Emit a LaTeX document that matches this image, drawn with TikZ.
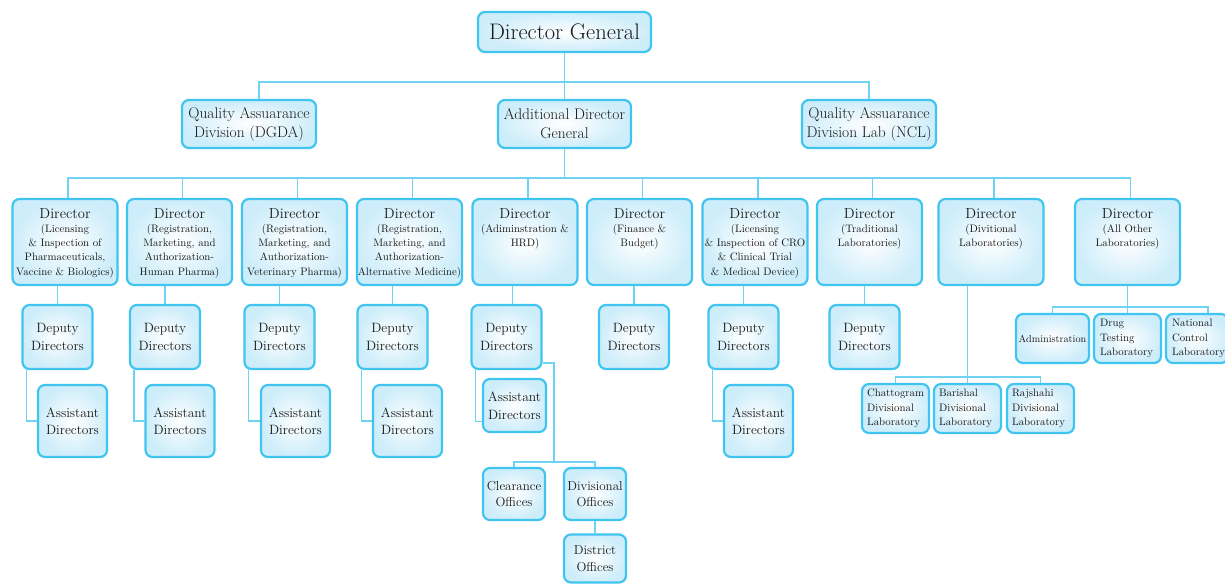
\documentclass[tikz,border=0pt]{standalone}
\usepackage{tikz}
\definecolor{edgecol}{RGB}{64,196,240}
\definecolor{linkcol}{RGB}{110,210,242}
\definecolor{tintcol}{RGB}{205,237,250}
\newcommand\dirlabel[1]{\parbox[c][86pt][t]{105pt}{\centering\rule{0pt}{19pt}\fontsize{14.5}{16}\selectfont Director\par\vspace{0.3pt}\fontsize{10.8}{14.2}\selectfont #1\par}}
\begin{document}
\begin{tikzpicture}[x=1pt,y=-1pt,
  orgbox/.style={draw=edgecol, line width=2.2pt, rounded corners=7pt,
    inner color=white, outer color=tintcol, inner sep=0pt, align=center, text=black!90},
  topbox/.style={orgbox, minimum width=173pt, minimum height=40pt, font=\fontsize{22.5}{26}\selectfont},
  secbox/.style={orgbox, minimum width=134pt, minimum height=48pt, font=\fontsize{15.5}{19}\selectfont},
  dirbox/.style={orgbox},
  depbox/.style={orgbox, minimum width=70pt, minimum height=64pt, font=\fontsize{13.5}{17.5}\selectfont},
  asbox/.style={orgbox, minimum width=69pt, minimum height=72pt, font=\fontsize{13.5}{17.5}\selectfont},
  offbox/.style={orgbox, minimum width=62pt, font=\fontsize{13}{16.5}\selectfont},
  labbox/.style={orgbox, minimum height=49pt, inner xsep=5pt, align=left, font=\fontsize{10.8}{14.5}\selectfont},
  link/.style={draw=linkcol, line width=1.3pt}]
\useasboundingbox (0,0) rectangle (1225,584);

% top levels
\node[topbox] (dg) at (564.5,32) {Director General};
\node[secbox] (qad) at (249,124) {Quality Assuarance\\Division (DGDA)};
\node[secbox, minimum width=133pt] (adg) at (564.5,124) {Additional Director\\General};
\node[secbox] (ncl) at (869,124) {Quality Assuarance\\Division Lab (NCL)};

% directors
\node[dirbox] (d1) at (65,242) {\dirlabel{(Licensing\\ \& Inspection of\\ Pharmaceuticals,\\ Vaccine \& Biologics)}};
\node[dirbox] (d2) at (179.5,242) {\dirlabel{(Registration,\\ Marketing, and\\ Authorization-\\ Human Pharma)}};
\node[dirbox] (d3) at (294.5,242) {\dirlabel{(Registration,\\ Marketing, and\\ Authorization-\\ Veterinary Pharma)}};
\node[dirbox] (d4) at (409.5,242) {\dirlabel{(Registration,\\ Marketing, and\\ Authorization-\\ Alternative Medicine)}};
\node[dirbox] (d5) at (525,242) {\dirlabel{(Adiminstration \&\\ HRD)}};
\node[dirbox] (d6) at (639.5,242) {\dirlabel{(Finance \&\\ Budget)}};
\node[dirbox] (d7) at (755,242) {\dirlabel{(Licensing\\ \& Inspection of CRO\\ \& Clinical Trial\\ \& Medical Device)}};
\node[dirbox] (d8) at (869.5,242) {\dirlabel{(Traditional\\ Laboratories)}};
\node[dirbox] (d9) at (991,242) {\dirlabel{(Divitional\\ Laboratories)}};
\node[dirbox] (d10) at (1127.5,242) {\dirlabel{(All Other\\ Laboratories)}};

% deputy directors
\node[depbox] (p1) at (57.5,337) {Deputy\\Directors};
\node[depbox] (p2) at (165,337) {Deputy\\Directors};
\node[depbox] (p3) at (279.5,337) {Deputy\\Directors};
\node[depbox] (p4) at (392.5,337) {Deputy\\Directors};
\node[depbox] (p5) at (506.5,337) {Deputy\\Directors};
\node[depbox] (p6) at (634,337) {Deputy\\Directors};
\node[depbox] (p7) at (743.5,337) {Deputy\\Directors};
\node[depbox] (p8) at (864.5,337) {Deputy\\Directors};

% assistant directors
\node[asbox] (a1) at (72.5,421) {Assistant\\Directors};
\node[asbox] (a2) at (180,421) {Assistant\\Directors};
\node[asbox] (a3) at (295.5,421) {Assistant\\Directors};
\node[asbox] (a4) at (407.5,421) {Assistant\\Directors};
\node[asbox, minimum width=63pt, minimum height=53pt] (a5) at (514.5,405.5) {Assistant\\Directors};
\node[asbox] (a7) at (758.5,421) {Assistant\\Directors};

% field offices
\node[offbox, minimum height=52pt] (c1) at (514,494) {Clearance\\Offices};
\node[offbox, minimum height=52pt] (c2) at (595,494) {Divisional\\Offices};
\node[offbox, minimum height=48pt] (c3) at (595,558.5) {District\\Offices};

% divisional laboratories
\node[labbox, text width=57pt] (e1) at (895.5,408.5) {Chattogram\\Divisional\\Laboratory};
\node[labbox, text width=57pt] (e2) at (967.5,408.5) {Barishal\\Divisional\\Laboratory};
\node[labbox, text width=57pt] (e3) at (1040.5,408.5) {Rajshahi\\Divisional\\Laboratory};

% other laboratories
\node[orgbox, minimum width=73pt, minimum height=49pt, font=\fontsize{10.2}{13}\selectfont] (f1) at (1052.5,338.5) {Administration};
\node[labbox, text width=55pt, inner xsep=6pt] (f2) at (1127.5,338.5) {Drug\\Testing\\Laboratory};
\node[labbox, text width=50pt, inner xsep=6pt] (f3) at (1197,338.5) {National\\Control\\Laboratory};

% connectors: top
\coordinate (busT) at (564.5,82);
\draw[link] (dg.south) -- (busT);
\draw[link] ([xshift=10pt]qad.north) |- (busT) -| (ncl.north);
\draw[link] (busT) -- (adg.north);

% connectors: directors
\coordinate (busM) at (564.5,178);
\draw[link] (adg.south) -- (busM);
\draw[link] ([xshift=3pt]d1.north) |- (busM) -| ([xshift=3pt]d10.north);
\foreach \n in {d2,d3,d4,d5,d6,d7,d8,d9}
  \draw[link] ([xshift=3pt]\n.north) -- ([xshift=3pt]\n.north |- busM);

% connectors: deputies
\foreach \d/\p in {d1/p1,d2/p2,d3/p3,d4/p4,d6/p6,d7/p7,d8/p8}
  \draw[link] (\p.north |- \d.south) -- (\p.north);
\draw[link] ([xshift=6pt]p5.north |- d5.south) -- ([xshift=6pt]p5.north);

% connectors: assistants
\foreach \p/\a in {p1/a1,p2/a2,p3/a3,p4/a4,p7/a7}
  \draw[link] ([xshift=5pt]\p.south west) |- (\a.west);
\draw[link] ([xshift=5pt]p5.south west) |- ([yshift=-16pt]a5.west);

% connectors: field offices
\coordinate (busC) at (554,462);
\draw[link] ([yshift=7pt]p5.south east) -| (busC);
\draw[link] (c1.north) |- (busC) -| (c2.north);
\draw[link] (c2.south) -- (c3.north);

% connectors: divisional laboratories
\coordinate (busE) at (967.5,377);
\draw[link] (e2.north |- d9.south) -- (e2.north);
\draw[link] (e1.north) |- (busE) -| (e3.north);

% connectors: other laboratories
\coordinate (busF) at (1127.5,307);
\draw[link] (d10.south) -- (f2.north);
\draw[link] (f1.north) |- (busF) -| ([xshift=11pt]f3.north);
\end{tikzpicture}
\end{document}
